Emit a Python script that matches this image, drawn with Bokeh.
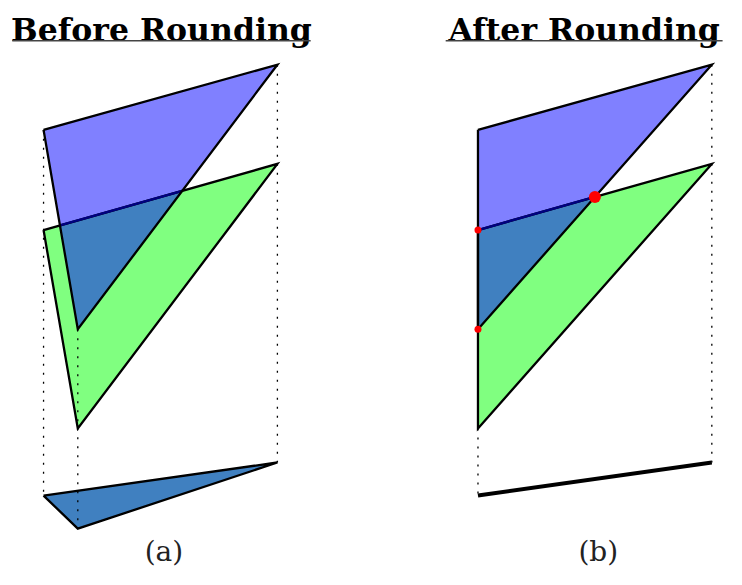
from bokeh.plotting import figure
from bokeh.models import Range1d
from bokeh.core.properties import value
from bokeh.embed import file_html
from bokeh.resources import INLINE

# ---- data (image coordinates, y grows downward) ----
before_blue_x = [44, 283, 79]
before_blue_y = [133, 66, 338]
before_green_x = [44, 283, 79]
before_green_y = [236, 168, 440]
before_proj_x = [44, 283, 79]
before_proj_y = [509, 475, 543]

after_blue_x = [488, 727, 488]
after_blue_y = [133, 66, 338]
after_green_x = [488, 727, 488]
after_green_y = [236, 168, 440]
after_proj_x = [488, 727]
after_proj_y = [509, 475]

titles = ["Before Rounding", "After Rounding"]
labels = ["(a)", "(b)"]

BLUE = "#8080ff"
GREEN = "#80ff80"
OVER = "#4080c0"
NAVY = "#000080"


def area(P):
    s = 0
    for i in range(len(P)):
        x1, y1 = P[i]
        x2, y2 = P[(i + 1) % len(P)]
        s += x1 * y2 - x2 * y1
    return s / 2


def clip(subject, clipper):
    sign = 1 if area(clipper) > 0 else -1

    def inside(p, a, b):
        return sign * ((b[0] - a[0]) * (p[1] - a[1]) - (b[1] - a[1]) * (p[0] - a[0])) >= -1e-9

    def inter(p, q, a, b):
        x1, y1 = p; x2, y2 = q; x3, y3 = a; x4, y4 = b
        d = (x1 - x2) * (y3 - y4) - (y1 - y2) * (x3 - x4)
        t = ((x1 - x3) * (y3 - y4) - (y1 - y3) * (x3 - x4)) / d
        return (x1 + t * (x2 - x1), y1 + t * (y2 - y1))

    out = list(subject)
    for i in range(len(clipper)):
        a = clipper[i]; b = clipper[(i + 1) % len(clipper)]
        inp = out; out = []
        if not inp:
            break
        s = inp[-1]
        for e in inp:
            if inside(e, a, b):
                if not inside(s, a, b):
                    out.append(inter(s, e, a, b))
                out.append(e)
            elif inside(s, a, b):
                out.append(inter(s, e, a, b))
            s = e
    res = []
    for p_ in out:
        if not res or abs(p_[0] - res[-1][0]) > 1e-6 or abs(p_[1] - res[-1][1]) > 1e-6:
            res.append(p_)
    if len(res) > 1 and abs(res[0][0] - res[-1][0]) < 1e-6 and abs(res[0][1] - res[-1][1]) < 1e-6:
        res.pop()
    return res


def clip_segment(p0, q, poly):
    sign = 1 if area(poly) > 0 else -1
    t0, t1 = 0.0, 1.0
    dx, dy = q[0] - p0[0], q[1] - p0[1]
    for i in range(len(poly)):
        a = poly[i]; b = poly[(i + 1) % len(poly)]
        num = sign * ((b[0] - a[0]) * (p0[1] - a[1]) - (b[1] - a[1]) * (p0[0] - a[0]))
        den = sign * ((b[0] - a[0]) * dy - (b[1] - a[1]) * dx)
        if abs(den) < 1e-12:
            if num < 0:
                return None
            continue
        t = -num / den
        if den > 0:
            t0 = max(t0, t)
        else:
            t1 = min(t1, t)
    if t0 >= t1:
        return None
    return (p0[0] + t0 * dx, p0[1] + t0 * dy), (p0[0] + t1 * dx, p0[1] + t1 * dy)


p = figure(width=726, height=569, x_range=Range1d(0, 742), y_range=Range1d(585, 0),
           output_backend="svg", toolbar_location=None, min_border=0)
p.axis.visible = False
p.grid.visible = False
p.outline_line_color = None
p.background_fill_color = "white"


def panel(bx, by, gx, gy):
    B = list(zip(bx, by)); G = list(zip(gx, gy))
    O = clip(G, B)
    p.patch(bx, by, fill_color=BLUE, line_color=None)
    p.patch(gx, gy, fill_color=GREEN, line_color=None)
    p.patch([q[0] for q in O], [q[1] for q in O], fill_color=OVER, line_color=None)
    return B, G, O


def edges(P, color="black", w=2.3):
    xs = [q[0] for q in P] + [P[0][0]]
    ys = [q[1] for q in P] + [P[0][1]]
    p.line(xs, ys, line_color=color, line_width=w, line_join="miter")


def dotted(x, y0, y1):
    p.line([x, x], [y0, y1], line_color="black", line_width=1.3, line_dash="2 7")


# ---- left panel ----
B, G, O = panel(before_blue_x, before_blue_y, before_green_x, before_green_y)
p.patch(before_proj_x, before_proj_y, fill_color=OVER, line_color=None)
dotted(before_blue_x[0], before_blue_y[0], before_proj_y[0])
dotted(before_blue_x[2], before_blue_y[2], before_proj_y[2])
dotted(before_blue_x[1], before_blue_y[1], before_proj_y[1])
edges(G)
seg = clip_segment(G[0], G[1], B)
if seg:
    p.line([seg[0][0], seg[1][0]], [seg[0][1], seg[1][1]], line_color=NAVY, line_width=2.3)
edges(B)
edges(list(zip(before_proj_x, before_proj_y)))

# ---- right panel ----
B2, G2, O2 = panel(after_blue_x, after_blue_y, after_green_x, after_green_y)
dotted(after_green_x[2], after_green_y[2], after_proj_y[0])
dotted(after_blue_x[1], after_blue_y[1], after_proj_y[1])
edges(G2)
seg2 = clip_segment(G2[0], G2[1], B2)
if seg2:
    p.line([seg2[0][0], seg2[1][0]], [seg2[0][1], seg2[1][1]], line_color=NAVY, line_width=2.3)
edges(B2)
p.line(after_proj_x, after_proj_y, line_color="black", line_width=4)

orig = B2 + G2
big_x, big_y, small_x, small_y = [], [], [], []
for q in O2:
    if any(abs(q[0] - o[0]) < 0.5 and abs(q[1] - o[1]) < 0.5 for o in orig):
        small_x.append(q[0]); small_y.append(q[1])
    else:
        big_x.append(q[0]); big_y.append(q[1])
p.scatter(small_x, small_y, size=7, fill_color="red", line_color=None)
p.scatter(big_x, big_y, size=12, fill_color="red", line_color=None)

# ---- titles and labels ----
title_x = [164.5, 596.5]
p.text(title_x, [30, 30], text=titles, text_font=value("DejaVu Serif"), text_font_style="bold",
       text_font_size="31.5px", text_align="center", text_baseline="alphabetic", text_color="black")
p.segment([12, 455], [41.5, 41.5], [317, 738], [41.5, 41.5], line_color="#444444", line_width=1.5)
p.text([167, 611], [566, 566], text=labels, text_font=value("DejaVu Serif"),
       text_font_size="28px", text_align="center", text_baseline="alphabetic", text_color="#222222")

open("out.html", "w").write(file_html(p, INLINE))
